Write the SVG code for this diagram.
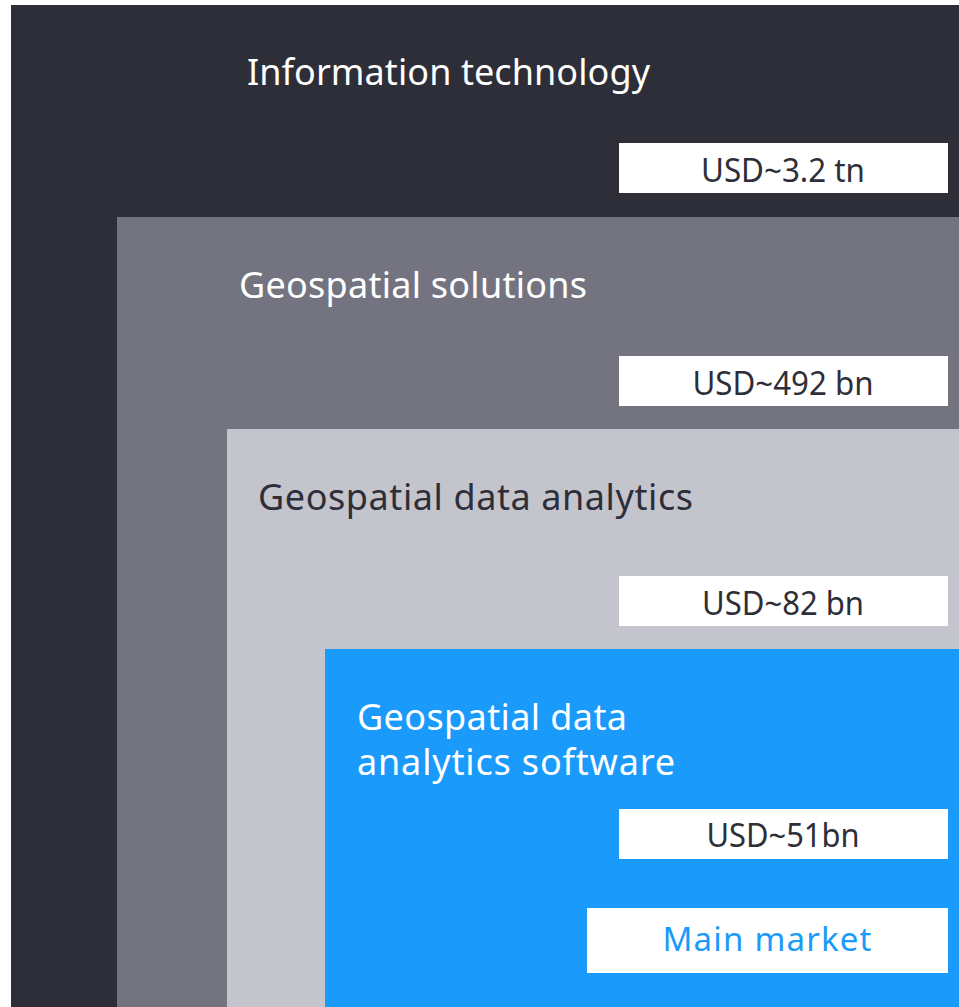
<svg xmlns="http://www.w3.org/2000/svg" width="959" height="1007" viewBox="0 0 959 1007">
<style>
.t{font-family:"Noto Sans","Open Sans",sans-serif;font-size:36px}
.w{fill:#ffffff}
.d{fill:#2e2e38}
.lb{fill:#ffffff}
.v{font-family:"Noto Sans","Open Sans",sans-serif;font-size:33px;fill:#2e2e38;text-anchor:middle}
.m{font-family:"Noto Sans","Open Sans",sans-serif;font-size:33px;fill:#1a9afa;text-anchor:middle}
</style>
<rect width="959" height="1007" fill="#ffffff"/>
<g id="it">
<rect x="11" y="5" width="948" height="1002" fill="#2e2e38"/>
<text class="t w" x="247" y="85" textLength="403" lengthAdjust="spacing">Information technology</text>
<rect class="lb" x="619" y="143" width="329" height="50"/>
<text class="v" x="783" y="182" textLength="164" lengthAdjust="spacingAndGlyphs">USD~3.2 tn</text>
</g>
<g id="geo-solutions">
<rect x="117" y="217" width="842" height="790" fill="#747480"/>
<text class="t w" x="239" y="298" textLength="348" lengthAdjust="spacing">Geospatial solutions</text>
<rect class="lb" x="619" y="356" width="329" height="50"/>
<text class="v" x="783" y="395" textLength="181" lengthAdjust="spacingAndGlyphs">USD~492 bn</text>
</g>
<g id="geo-analytics">
<rect x="227" y="429" width="732" height="578" fill="#c4c4cd"/>
<text class="t d" x="258" y="510" textLength="435" lengthAdjust="spacing">Geospatial data analytics</text>
<rect class="lb" x="619" y="576" width="329" height="50"/>
<text class="v" x="783" y="615" textLength="162" lengthAdjust="spacingAndGlyphs">USD~82 bn</text>
</g>
<g id="geo-software">
<rect x="325" y="649" width="634" height="358" fill="#1a9afa"/>
<text class="t w" x="357" y="730" textLength="270" lengthAdjust="spacing">Geospatial data</text>
<text class="t w" x="357" y="775" textLength="318" lengthAdjust="spacing">analytics software</text>
<rect class="lb" x="619" y="809" width="329" height="50"/>
<text class="v" x="783" y="847" textLength="153" lengthAdjust="spacingAndGlyphs">USD~51bn</text>
<rect class="lb" x="587" y="908" width="361" height="65"/>
<text class="m" x="767" y="951" textLength="209" lengthAdjust="spacing">Main market</text>
</g>
</svg>
